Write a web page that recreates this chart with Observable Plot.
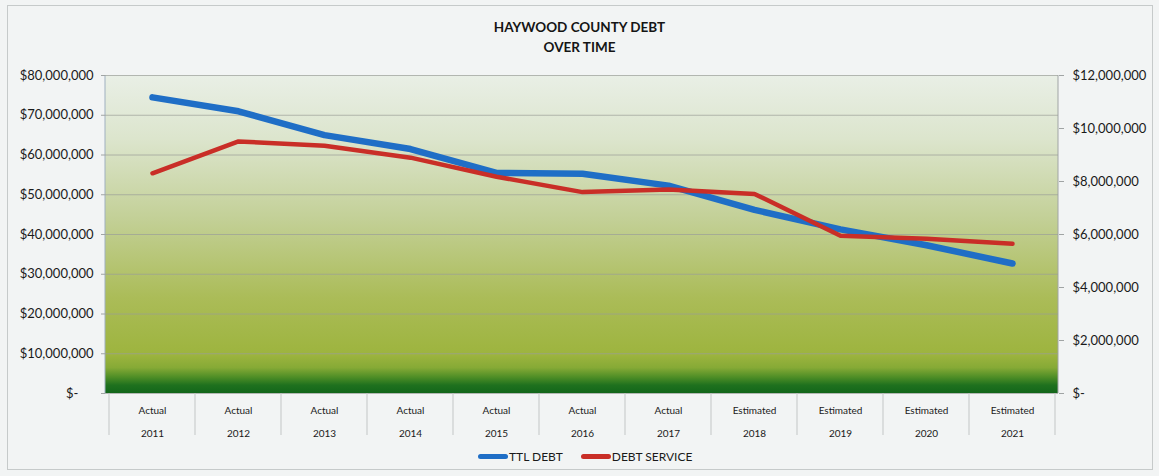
<!DOCTYPE html>
<html><head><meta charset="utf-8">
<script src="https://cdn.jsdelivr.net/npm/d3@7"></script>
<script src="https://cdn.jsdelivr.net/npm/@observablehq/plot@0.6"></script>
<style>
body{margin:0;background:#f2f4f4;font-family:Lato,"Open Sans",sans-serif;}
#wrap{position:relative;width:1159px;height:476px;overflow:hidden;background:#f2f4f4;}
#border{position:absolute;left:7px;top:5px;width:1146px;height:465px;border:1px solid #c6caca;box-sizing:border-box;}
#chart{position:absolute;left:0;top:0;}
#title{position:absolute;top:18px;left:0;width:1159px;text-align:center;font-weight:bold;font-size:13.5px;line-height:19.5px;color:#151515;}
#legend{position:absolute;top:449px;left:478px;display:flex;align-items:center;font-size:12px;color:#1a1a1a;white-space:nowrap;}
.sw{display:inline-block;width:30px;height:5px;border-radius:3px;margin-right:1px;}
.item{display:flex;align-items:center;margin-right:18px;}
</style></head>
<body>
<div id="wrap">
  <div id="border"></div>
  <div id="chart"></div>
  <div id="title">HAYWOOD COUNTY DEBT<br>OVER TIME</div>
  <div id="legend"></div>
</div>
<script>
const years = ["2011","2012","2013","2014","2015","2016","2017","2018","2019","2020","2021"];
const kinds = ["Actual","Actual","Actual","Actual","Actual","Actual","Actual","Estimated","Estimated","Estimated","Estimated"];
const ttlDebt = [74.5e6, 71.0e6, 65.0e6, 61.5e6, 55.5e6, 55.3e6, 52.3e6, 46.2e6, 41.3e6, 37.3e6, 32.7e6];
const debtService = [8.31e6, 9.51e6, 9.35e6, 8.9e6, 8.18e6, 7.6e6, 7.7e6, 7.53e6, 5.95e6, 5.84e6, 5.65e6];
const leftTicks = [0, 10e6, 20e6, 30e6, 40e6, 50e6, 60e6, 70e6, 80e6];
const rightTicks = [0, 2e6, 4e6, 6e6, 8e6, 10e6, 12e6];
const seriesNames = ["TTL DEBT", "DEBT SERVICE"];
const seriesColors = ["#1f6ec6", "#c92e27"];

const cats = years.map((y, i) => kinds[i] + "\n" + y);
const ratio = leftTicks[leftTicks.length - 1] / rightTicks[rightTicks.length - 1];
const data = years.map((y, i) => ({cat: cats[i], ttl: ttlDebt[i], ds: debtService[i]}));
const money = d3.format(",.0f");
const fmtL = d => d === 0 ? "$-\u2007\u2007" : "$" + money(d);
const fmtR = d => d === 0 ? "$-" : "$" + money(d);

function background(index, scales, values, dims) {
  const {width, height, marginTop, marginBottom, marginLeft, marginRight} = dims;
  const g = d3.create("svg:g");
  const grad = g.append("defs").append("linearGradient")
    .attr("id", "bggrad").attr("x1", 0).attr("y1", 0).attr("x2", 0).attr("y2", 1);
  [[0, "#e9efe6"], [0.2, "#dce5cd"], [0.45, "#c3d097"], [0.7, "#abbc58"], [0.88, "#9db43e"],
   [0.92, "#86aa36"], [0.95, "#4e8e26"], [0.975, "#1f711e"], [1, "#13661a"]]
    .forEach(([o, c]) => grad.append("stop").attr("offset", o).attr("stop-color", c));
  const x0 = marginLeft, x1 = width - marginRight, y0 = marginTop, y1 = height - marginBottom;
  g.append("rect").attr("x", x0).attr("y", y0).attr("width", x1 - x0).attr("height", y1 - y0)
    .attr("fill", "url(#bggrad)");
  g.append("line").attr("x1", x0).attr("x2", x0).attr("y1", y0).attr("y2", y1).attr("stroke", "#9fb0c0");
  g.append("line").attr("x1", x1).attr("x2", x1).attr("y1", y0).attr("y2", y1).attr("stroke", "#a0a4a4");
  return g.node();
}

function dividers(index, {x}, values, dims) {
  const g = d3.create("svg:g");
  const bw = x.bandwidth();
  const xs = cats.map(c => x(c)).concat([x(cats[cats.length - 1]) + bw]);
  const yb = dims.height - dims.marginBottom;
  g.selectAll("line").data(xs).join("line")
    .attr("x1", d => d).attr("x2", d => d).attr("y1", yb).attr("y2", yb + 42)
    .attr("stroke", "#c3c6c6");
  return g.node();
}

const plot = Plot.plot({
  width: 1159, height: 476,
  marginTop: 75, marginBottom: 83, marginLeft: 105, marginRight: 101,
  style: {background: "transparent", fontFamily: "Lato, 'Open Sans', sans-serif", color: "#1a1a1a"},
  x: {type: "band", domain: cats, padding: 0, axis: null, label: null},
  y: {domain: [0, leftTicks[leftTicks.length - 1]], axis: null, label: null},
  marks: [
    background,
    Plot.gridY(leftTicks, {stroke: "#9a9e98", strokeOpacity: 0.7}),
    Plot.axisY(leftTicks, {anchor: "left", label: null, tickFormat: fmtL, tickSize: 4, tickPadding: 8, fontSize: 13, stroke: "#a0a4a4"}),
    Plot.axisY(rightTicks.map(v => v * ratio), {anchor: "right", label: null, tickFormat: d => fmtR(d / ratio), tickSize: 5, tickPadding: 9, fontSize: 13, stroke: "#a0a4a4"}),
    Plot.axisX(cats, {anchor: "bottom", label: null, tickSize: 0, tickPadding: 4, fontSize: 10, lineHeight: 2.3}),
    dividers,
    Plot.line(data, {x: "cat", y: "ttl", stroke: seriesColors[0], strokeWidth: 6.5, strokeLinecap: "round", strokeLinejoin: "round"}),
    Plot.line(data, {x: "cat", y: d => d.ds * ratio, stroke: seriesColors[1], strokeWidth: 4.5, strokeLinecap: "round", strokeLinejoin: "round"})
  ]
});
document.getElementById("chart").append(plot);

const legend = d3.select("#legend");
seriesNames.forEach((n, i) => {
  const it = legend.append("div").attr("class", "item");
  it.append("span").attr("class", "sw").style("background", seriesColors[i]);
  it.append("span").text(n);
});
</script>
</body></html>
